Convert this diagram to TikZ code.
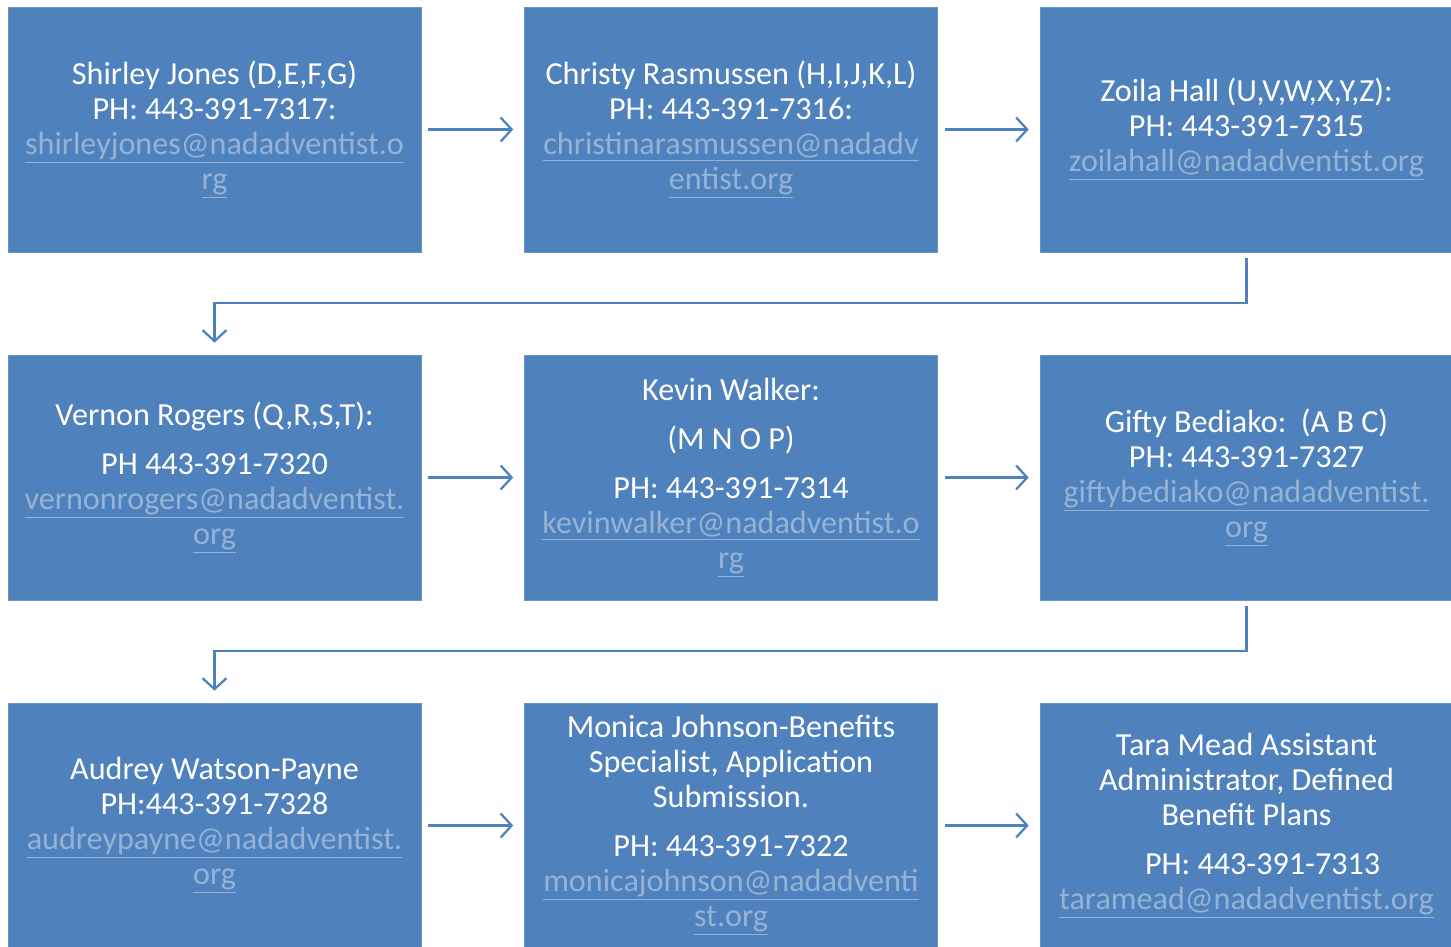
\documentclass[tikz,border=0pt]{standalone}
\usepackage{fontspec}
\setmainfont{Carlito}
\usetikzlibrary{arrows.meta, positioning}

\definecolor{boxblue}{HTML}{4F81BD}
\definecolor{linkblue}{HTML}{95B3D7}
\newcommand{\emaillink}[1]{\textcolor{linkblue}{\underline{#1}}}

\tikzset{
    person/.style={draw=boxblue!85!white, line width=0.4pt, fill=boxblue, text=white, align=center,
        minimum width=8.26cm, minimum height=4.9cm, inner sep=0pt,
        font=\fontsize{18.3}{19.9}\selectfont},
    link/.style={draw=boxblue, line width=1.3pt, -{Straight Barb[length=0.22cm, width=0.48cm]}}
}

\begin{document}
\begin{tikzpicture}[x=0.02cm, y=-0.02cm]

            \useasboundingbox (0,0) rectangle (1451,947);

            % First row
            \node[person] (jones) at (214.5,129.5) {Shirley Jones (D,E,F,G)\\ PH: 443-391-7317:\\ \emaillink{shirleyjones@nadadventist.o}\\ \emaillink{rg}};
            \node[person] (rasmussen) at (731,129.5) {Christy Rasmussen (H,I,J,K,L)\\ PH: 443-391-7316:\\ \emaillink{christinarasmussen@nadadv}\\ \emaillink{entist.org}};
            \node[person] (hall) at (1246.5,129.5) {Zoila Hall (U,V,W,X,Y,Z):\\ PH: 443-391-7315\\ \emaillink{zoilahall@nadadventist.org}};

            % Second row
            \node[person] (rogers) at (214.5,477.5) {Vernon Rogers (Q,R,S,T):\\[8pt] PH 443-391-7320\\ \emaillink{vernonrogers@nadadventist.}\\ \emaillink{org}};
            \node[person] (walker) at (731,477.5) {Kevin Walker:\\[8pt] (M N O P)\\[8pt] PH: 443-391-7314\\ \emaillink{kevinwalker@nadadventist.o}\\ \emaillink{rg}};
            \node[person] (bediako) at (1246.5,477.5) {Gifty Bediako:~~(A B C)\\ PH: 443-391-7327\\ \emaillink{giftybediako@nadadventist.}\\ \emaillink{org}};

            % Third row
            \node[person] (payne) at (214.5,825.5) {Audrey Watson-Payne\\ PH:443-391-7328\\ \emaillink{audreypayne@nadadventist.}\\ \emaillink{org}};
            \node[person] (johnson) at (731,825.5) {Monica Johnson-Benefits\\ Specialist, Application\\ Submission.\\[8pt] PH: 443-391-7322\\ \emaillink{monicajohnson@nadadventi}\\ \emaillink{st.org}};
            \node[person] (mead) at (1246.5,825.5) {Tara Mead Assistant\\ Administrator, Defined\\ Benefit Plans\\[8pt] \hspace*{1em}PH: 443-391-7313\\ \emaillink{taramead@nadadventist.org}};

            % Arrows along each row
            \draw[link, shorten <=0.14cm, shorten >=0.22cm] (jones) -- (rasmussen);
            \draw[link, shorten <=0.14cm, shorten >=0.22cm] (rasmussen) -- (hall);
            \draw[link, shorten <=0.14cm, shorten >=0.22cm] (rogers) -- (walker);
            \draw[link, shorten <=0.14cm, shorten >=0.22cm] (walker) -- (bediako);
            \draw[link, shorten <=0.14cm, shorten >=0.22cm] (payne) -- (johnson);
            \draw[link, shorten <=0.14cm, shorten >=0.22cm] (johnson) -- (mead);

            % Arrows from one row to the next
            \draw[link, shorten <=0.12cm, shorten >=0.24cm] (hall.south) -- ++(0,51) -| (rogers.north);
            \draw[link, shorten <=0.12cm, shorten >=0.24cm] (bediako.south) -- ++(0,51) -| (payne.north);

\end{tikzpicture}
\end{document}
